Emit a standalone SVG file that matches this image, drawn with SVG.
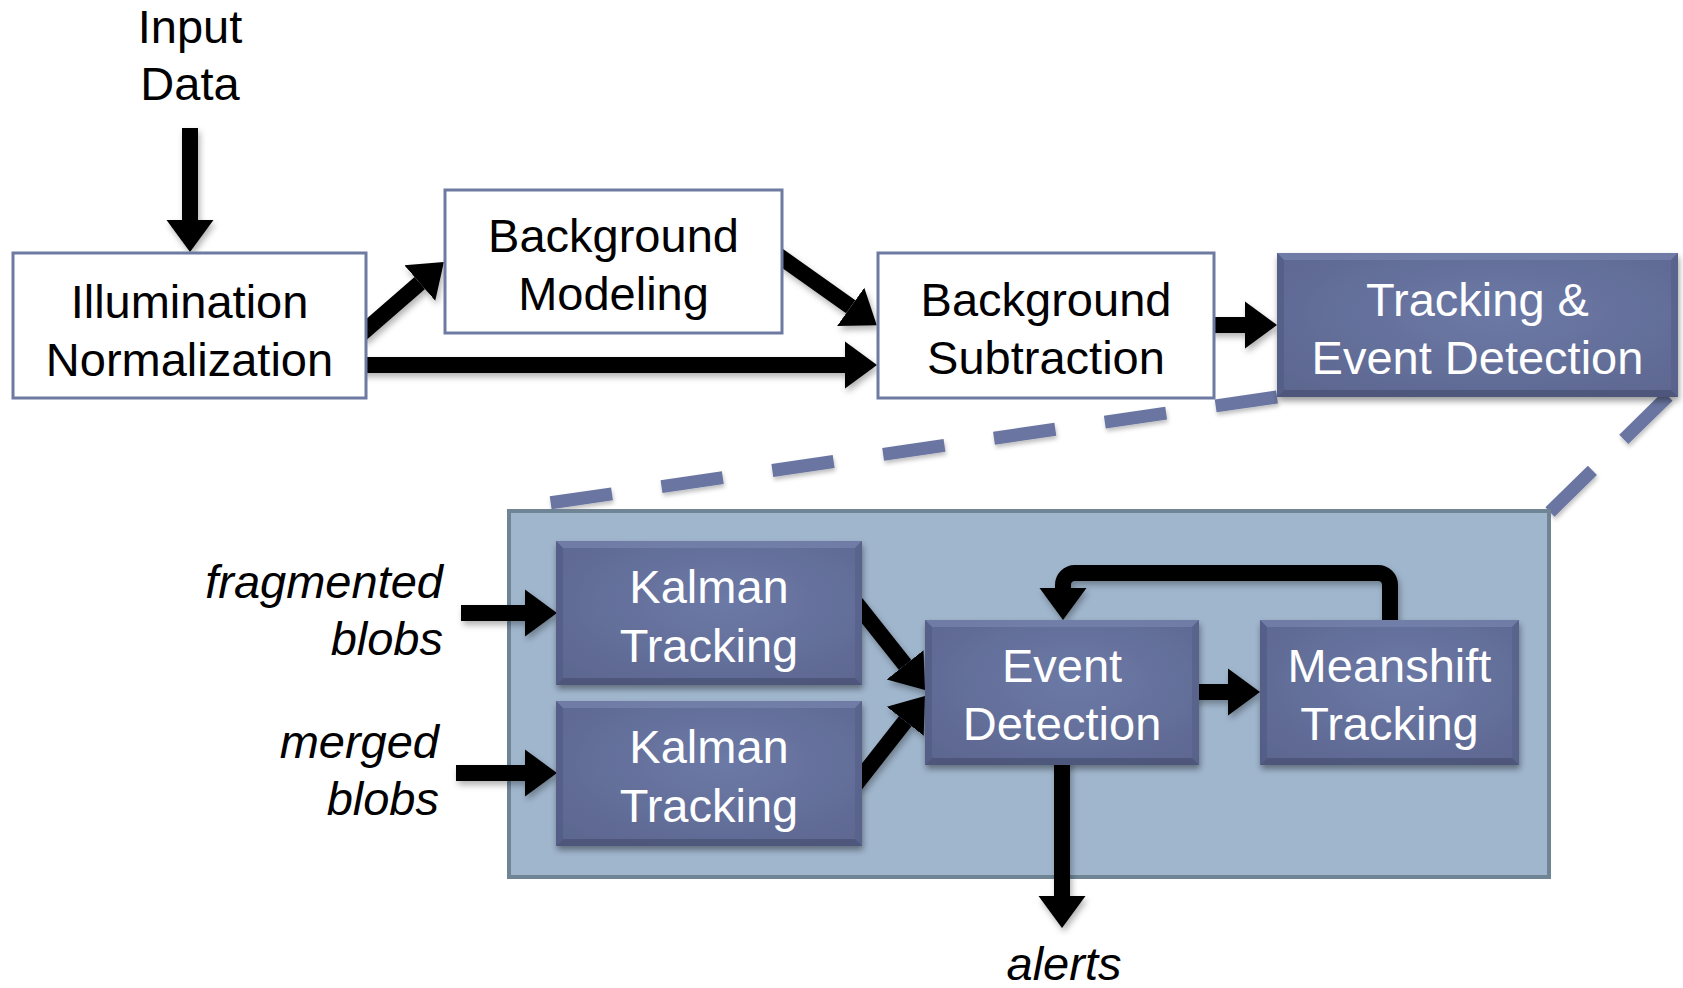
<svg xmlns="http://www.w3.org/2000/svg" width="1683" height="988" viewBox="0 0 1683 988">
  <style>
    text { font-family: "Liberation Sans", Arial, sans-serif; font-size: 47px; text-anchor: middle; }
    .dark-text { fill: #ffffff; }
    .light-text { fill: #000000; }
    .label { font-style: italic; text-anchor: end; fill: #000000; }
    .plain { fill: #ffffff; stroke: #6f7aa2; stroke-width: 3; }
    .solid { fill: url(#boxFill); filter: url(#boxShadow); }
    .bv-top { fill: #7784ae; opacity: 0.7; }
    .bv-left { fill: #535d85; opacity: 0.8; }
    .bv-right { fill: #57618a; opacity: 0.8; }
    .bv-bottom { fill: #4b5478; opacity: 0.85; }
    .shaft { fill: none; stroke: #000000; stroke-width: 16; marker-end: url(#head); }
    .zoomline { fill: none; stroke: #6a76a1; stroke-width: 13; filter: url(#lineShadow); }
    .panel { fill: #a0b6cd; stroke: #6f8495; stroke-width: 4; }
  </style>
  <defs>
    <radialGradient id="boxFill" cx="0.55" cy="0.42" r="0.75">
      <stop offset="0" stop-color="#6c79a6"/>
      <stop offset="1" stop-color="#5c668f"/>
    </radialGradient>
    <filter id="boxShadow" x="-10%" y="-10%" width="125%" height="135%">
      <feDropShadow dx="1" dy="4" stdDeviation="3" flood-color="#000000" flood-opacity="0.4"/>
    </filter>
    <filter id="arrowShadow" x="-20%" y="-20%" width="140%" height="140%">
      <feDropShadow dx="2" dy="4" stdDeviation="3" flood-color="#000000" flood-opacity="0.3"/>
    </filter>
    <filter id="lineShadow" x="-10%" y="-30%" width="120%" height="160%">
      <feDropShadow dx="1" dy="3" stdDeviation="2" flood-color="#000000" flood-opacity="0.25"/>
    </filter>
    <marker id="head" markerUnits="userSpaceOnUse" viewBox="0 -25 34 50" markerWidth="34" markerHeight="50" refX="0" refY="0" orient="auto">
      <path d="M0,-23.5 L32,0 L0,23.5 Z" fill="#000000"/>
    </marker>
  </defs>

  <rect width="1683" height="988" fill="#ffffff"/>

  <!-- zoom-out lines from the tracking stage to its detail panel -->
  <g id="zoom-lines">
    <path class="zoomline" d="M1277 397 L549 503" stroke-dasharray="62 50"/>
    <path class="zoomline" d="M1668 396 L1550 512" stroke-dasharray="62 44"/>
  </g>

  <!-- detail panel -->
  <g id="detail-panel">
    <rect class="panel" x="509" y="511" width="1040" height="366"/>
  </g>

  <!-- connectors -->
  <g id="connectors" filter="url(#arrowShadow)">
    <path class="shaft" d="M190 128 V220"/>
    <path class="shaft" d="M360 335 L419.8 283"/>
    <path class="shaft" d="M772 251 L850.7 306.8"/>
    <path class="shaft" d="M360 365 H845"/>
    <path class="shaft" d="M1210 325 H1245"/>
    <path class="shaft" d="M461 613 H525"/>
    <path class="shaft" d="M456 773 H525"/>
    <path class="shaft" d="M856 603 L905.1 664.9"/>
    <path class="shaft" d="M856 784 L905.2 721.2"/>
    <path class="shaft" d="M1195 692 H1228"/>
    <path class="shaft" d="M1390 625 V585 A12 12 0 0 0 1378 573 H1075 A12 12 0 0 0 1063 585 V588" stroke-linejoin="round"/>
    <path class="shaft" d="M1062 760 V896"/>
  </g>

  <!-- input / output labels -->
  <g id="input-data">
    <text class="light-text" x="190" y="43">Input</text>
    <text class="light-text" x="190" y="100">Data</text>
  </g>
  <g id="fragmented-blobs">
    <text class="label" x="443" y="598">fragmented</text>
    <text class="label" x="443" y="655">blobs</text>
  </g>
  <g id="merged-blobs">
    <text class="label" x="439" y="758">merged</text>
    <text class="label" x="439" y="815">blobs</text>
  </g>
  <g id="alerts">
    <text class="label" x="1064" y="980" style="text-anchor: middle">alerts</text>
  </g>

  <!-- pipeline stages -->
  <g id="illumination-normalization">
    <rect class="plain" x="13" y="253" width="353" height="145"/>
    <text class="light-text" x="189.5" y="318">Illumination</text>
    <text class="light-text" x="189.5" y="376">Normalization</text>
  </g>
  <g id="background-modeling">
    <rect class="plain" x="445" y="190" width="337" height="143"/>
    <text class="light-text" x="613.5" y="252">Background</text>
    <text class="light-text" x="613.5" y="310">Modeling</text>
  </g>
  <g id="background-subtraction">
    <rect class="plain" x="878" y="253" width="336" height="145"/>
    <text class="light-text" x="1046" y="316">Background</text>
    <text class="light-text" x="1046" y="374">Subtraction</text>
  </g>
  <g id="tracking-event-detection">
    <rect class="solid" x="1277" y="253" width="401" height="144"/>
    <polygon class="bv-top" points="1277,253 1678,253 1671,260 1284,260"/>
    <polygon class="bv-left" points="1277,253 1284,260 1284,390 1277,397"/>
    <polygon class="bv-right" points="1678,253 1678,397 1671,390 1671,260"/>
    <polygon class="bv-bottom" points="1277,397 1678,397 1671,390 1284,390"/>
    <text class="dark-text" x="1477.5" y="316">Tracking &amp;</text>
    <text class="dark-text" x="1477.5" y="374">Event Detection</text>
  </g>

  <!-- detail stages -->
  <g id="kalman-tracking-fragmented">
    <rect class="solid" x="556" y="541" width="306" height="144"/>
    <polygon class="bv-top" points="556,541 862,541 855,548 563,548"/>
    <polygon class="bv-left" points="556,541 563,548 563,678 556,685"/>
    <polygon class="bv-right" points="862,541 862,685 855,678 855,548"/>
    <polygon class="bv-bottom" points="556,685 862,685 855,678 563,678"/>
    <text class="dark-text" x="709" y="603">Kalman</text>
    <text class="dark-text" x="709" y="662">Tracking</text>
  </g>
  <g id="kalman-tracking-merged">
    <rect class="solid" x="556" y="701" width="306" height="145"/>
    <polygon class="bv-top" points="556,701 862,701 855,708 563,708"/>
    <polygon class="bv-left" points="556,701 563,708 563,839 556,846"/>
    <polygon class="bv-right" points="862,701 862,846 855,839 855,708"/>
    <polygon class="bv-bottom" points="556,846 862,846 855,839 563,839"/>
    <text class="dark-text" x="709" y="763">Kalman</text>
    <text class="dark-text" x="709" y="822">Tracking</text>
  </g>
  <g id="event-detection">
    <rect class="solid" x="925" y="620" width="274" height="145"/>
    <polygon class="bv-top" points="925,620 1199,620 1192,627 932,627"/>
    <polygon class="bv-left" points="925,620 932,627 932,758 925,765"/>
    <polygon class="bv-right" points="1199,620 1199,765 1192,758 1192,627"/>
    <polygon class="bv-bottom" points="925,765 1199,765 1192,758 932,758"/>
    <text class="dark-text" x="1062" y="682">Event</text>
    <text class="dark-text" x="1062" y="740">Detection</text>
  </g>
  <g id="meanshift-tracking">
    <rect class="solid" x="1260" y="620" width="259" height="145"/>
    <polygon class="bv-top" points="1260,620 1519,620 1512,627 1267,627"/>
    <polygon class="bv-left" points="1260,620 1267,627 1267,758 1260,765"/>
    <polygon class="bv-right" points="1519,620 1519,765 1512,758 1512,627"/>
    <polygon class="bv-bottom" points="1260,765 1519,765 1512,758 1267,758"/>
    <text class="dark-text" x="1389.5" y="682">Meanshift</text>
    <text class="dark-text" x="1389.5" y="740">Tracking</text>
  </g>
</svg>
